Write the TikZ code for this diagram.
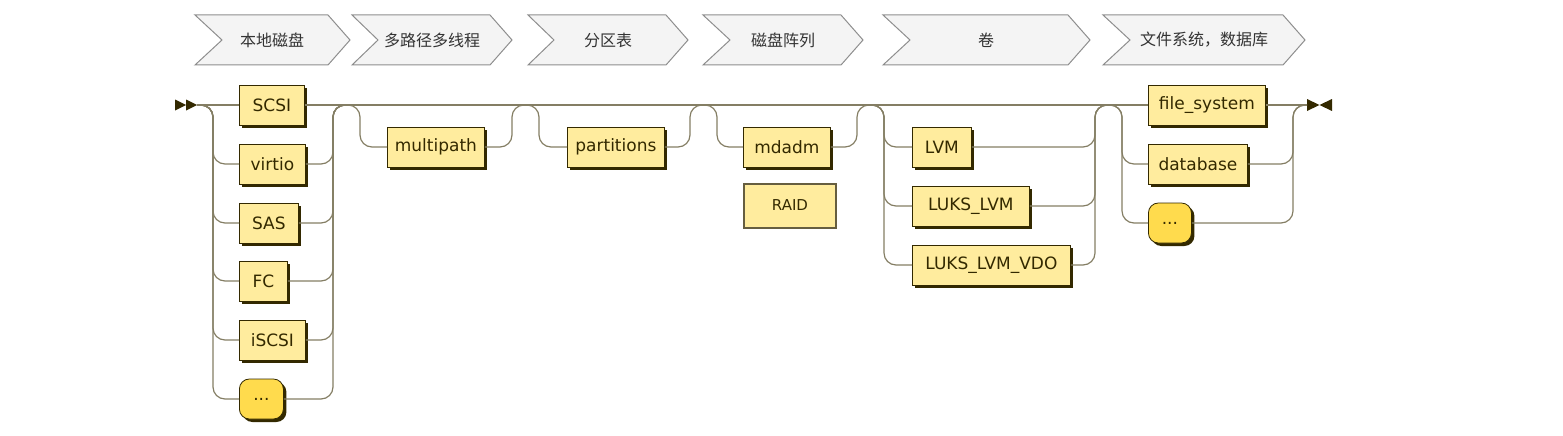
\documentclass[tikz,border=0pt]{standalone}
\usepackage{fontspec}
\setmainfont{DejaVu Sans}
\newfontfamily\cjkfont{Noto Sans CJK SC}
\usepackage{tikz}
\usetikzlibrary{calc, shadows}

\definecolor{rrdark}{HTML}{332900}
\definecolor{rrline}{HTML}{847E64}
\definecolor{rrfill}{HTML}{FFEC9E}
\definecolor{rrterm}{HTML}{FFDB4D}
\definecolor{stagefill}{HTML}{F4F4F4}
\definecolor{stageline}{HTML}{8E8E8E}

\tikzset{
  rail/.style={draw=rrline, line width=1.2pt, rounded corners=12pt},
  rrbox/.style={draw=rrdark, line width=0.8pt, fill=rrfill, text=rrdark,
    minimum height=40, inner sep=0pt, anchor=west,
    font=\fontsize{17}{19}\selectfont,
    general shadow={fill=rrdark, shadow xshift=3pt, shadow yshift=-3pt}},
  rrterm/.style={rrbox, fill=rrterm, rounded corners=10pt},
  rrnote/.style={draw=rrdark!75, line width=2pt, fill=rrfill, text=rrdark,
    minimum height=44, inner sep=0pt, anchor=west,
    font=\fontsize{15}{17}\selectfont},
  stage/.style={draw=stageline, line width=1pt, fill=stagefill},
  stagetext/.style={text=black!80, font=\fontsize{16}{18}\cjkfont}
}

\begin{document}
\begin{tikzpicture}[x=1pt, y=-1pt]
  \useasboundingbox (0,0) rectangle (1563,436);

  % Stages
  \draw[stage] (195,15) -- (328,15) -- (350,40) -- (328,65) -- (195,65) -- (222,40) -- cycle;
  \node[stagetext] (st1) at (272,40) {本地磁盘};
  \draw[stage] (352,15) -- (490,15) -- (512,40) -- (490,65) -- (352,65) -- (378,40) -- cycle;
  \node[stagetext] (st2) at (432,40) {多路径多线程};
  \draw[stage] (528,15) -- (666,15) -- (688,40) -- (666,65) -- (528,65) -- (554,40) -- cycle;
  \node[stagetext] (st3) at (608,40) {分区表};
  \draw[stage] (703,15) -- (841,15) -- (863,40) -- (841,65) -- (703,65) -- (730,40) -- cycle;
  \node[stagetext] (st4) at (783,40) {磁盘阵列};
  \draw[stage] (883,15) -- (1068,15) -- (1090,40) -- (1068,65) -- (883,65) -- (910,40) -- cycle;
  \node[stagetext] (st5) at (986,40) {卷};
  \draw[stage] (1103,15) -- (1283,15) -- (1305,40) -- (1283,65) -- (1103,65) -- (1130,40) -- cycle;
  \node[stagetext] (st6) at (1204,40) {文件系统，数据库};

  % Start and end markers
  \fill[rrdark] (175,99.5) -- (186,105) -- (175,110.5) -- cycle;
  \fill[rrdark] (186,99.5) -- (197,105) -- (186,110.5) -- cycle;
  \fill[rrdark] (1307,99) -- (1319.5,105) -- (1307,111) -- cycle;
  \fill[rrdark] (1332,99) -- (1319.5,105) -- (1332,111) -- cycle;
  \coordinate (begin) at (197,105);
  \coordinate (finish) at (1307,105);

  % Rail junctions
  \coordinate (disk-in) at (213,105);
  \coordinate (disk-out) at (333,105);
  \coordinate (mp-in) at (360,105);
  \coordinate (mp-out) at (512,105);
  \coordinate (part-in) at (539,105);
  \coordinate (part-out) at (690,105);
  \coordinate (md-in) at (717,105);
  \coordinate (md-out) at (857,105);
  \coordinate (vol-in) at (884,105);
  \coordinate (vol-out) at (1095,105);
  \coordinate (fs-in) at (1122,105);
  \coordinate (fs-out) at (1293,105);

  % Local disks
  \node[rrbox, minimum width=65] (SCSI) at (239,105) {SCSI};
  \node[rrbox, minimum width=66] (virtio) at (239,164) {virtio};
  \node[rrbox, minimum width=59] (SAS) at (239,223) {SAS};
  \node[rrbox, minimum width=48] (FC) at (239,281) {FC};
  \node[rrbox, minimum width=66] (iSCSI) at (239,340) {iSCSI};
  \node[rrterm, minimum width=44] (diskmore) at (239,399) {...};

  % Multipath, partitions, RAID
  \node[rrbox, minimum width=97] (multipath) at (387,147) {multipath};
  \node[rrbox, minimum width=97] (partitions) at (567,147) {partitions};
  \node[rrbox, minimum width=87] (mdadm) at (743,147) {mdadm};
  \node[rrnote, minimum width=92] (RAID) at (743,205.5) {RAID};

  % Volumes
  \node[rrbox, minimum width=59] (LVM) at (912,147) {LVM};
  \node[rrbox, minimum width=117] (LUKS) at (912,206) {LUKS\_LVM};
  \node[rrbox, minimum width=158] (VDO) at (912,265) {LUKS\_LVM\_VDO};

  % File systems, databases
  \node[rrbox, minimum width=117] (filesystem) at (1148,105) {file\_system};
  \node[rrbox, minimum width=99] (database) at (1148,164) {database};
  \node[rrterm, minimum width=43] (fsmore) at (1148,223) {...};

  % Main line
  \draw[rail] (begin) -- (SCSI.west);
  \draw[rail] (SCSI.east) -- (filesystem.west);
  \draw[rail] (filesystem.east) -- (finish);

  % Choice of disks
  \draw[rail] (begin) -- (disk-in) |- (virtio.west);
  \draw[rail] (begin) -- (disk-in) |- (SAS.west);
  \draw[rail] (begin) -- (disk-in) |- (FC.west);
  \draw[rail] (begin) -- (disk-in) |- (iSCSI.west);
  \draw[rail] (begin) -- (disk-in) |- (diskmore.west);
  \draw[rail] (virtio.east) -| (disk-out) -- +(12,0);
  \draw[rail] (SAS.east) -| (disk-out) -- +(12,0);
  \draw[rail] (FC.east) -| (disk-out) -- +(12,0);
  \draw[rail] (iSCSI.east) -| (disk-out) -- +(12,0);
  \draw[rail] (diskmore.east) -| (disk-out) -- +(12,0);

  % Optional layers
  \draw[rail] ($(mp-in)+(-12,0)$) -- (mp-in) |- (multipath.west);
  \draw[rail] (multipath.east) -| (mp-out) -- +(12,0);
  \draw[rail] ($(part-in)+(-12,0)$) -- (part-in) |- (partitions.west);
  \draw[rail] (partitions.east) -| (part-out) -- +(12,0);
  \draw[rail] ($(md-in)+(-12,0)$) -- (md-in) |- (mdadm.west);
  \draw[rail] (mdadm.east) -| (md-out) -- +(12,0);

  % Choice of volumes
  \draw[rail] ($(vol-in)+(-12,0)$) -- (vol-in) |- (LVM.west);
  \draw[rail] ($(vol-in)+(-12,0)$) -- (vol-in) |- (LUKS.west);
  \draw[rail] ($(vol-in)+(-12,0)$) -- (vol-in) |- (VDO.west);
  \draw[rail] (LVM.east) -| (vol-out) -- +(12,0);
  \draw[rail] (LUKS.east) -| (vol-out) -- +(12,0);
  \draw[rail] (VDO.east) -| (vol-out) -- +(12,0);

  % Choice of file systems
  \draw[rail] ($(fs-in)+(-12,0)$) -- (fs-in) |- (database.west);
  \draw[rail] ($(fs-in)+(-12,0)$) -- (fs-in) |- (fsmore.west);
  \draw[rail] (database.east) -| (fs-out) -- (finish);
  \draw[rail] (fsmore.east) -| (fs-out) -- (finish);
\end{tikzpicture}
\end{document}
